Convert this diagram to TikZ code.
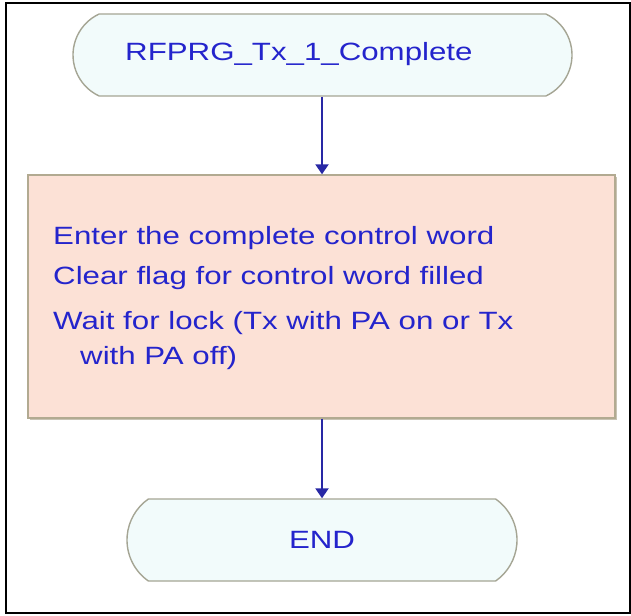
\documentclass[tikz,border=0pt]{standalone}
\usepackage{fontspec}
\setmainfont{Liberation Sans}[FakeStretch=1.25]
\usetikzlibrary{shapes.misc,arrows.meta}
\definecolor{txtblue}{RGB}{36,36,204}
\definecolor{arrowblue}{RGB}{40,40,165}
\definecolor{termfill}{RGB}{242,251,251}
\definecolor{termedge}{RGB}{165,165,148}
\definecolor{procfill}{RGB}{252,225,214}
\definecolor{procedge}{RGB}{178,170,145}
\definecolor{shadowgrey}{RGB}{200,195,180}
\begin{document}
\begin{tikzpicture}[x=1pt,y=-1pt,
  terminal/.style={draw=termedge, line width=1.4pt, fill=termfill,
    rounded rectangle, inner sep=0pt, minimum height=82pt},
  procbox/.style={draw=procedge, line width=1.4pt, fill=procfill,
    rectangle, inner sep=0pt, minimum width=587pt, minimum height=243pt},
  lbl/.style={text=txtblue, font=\fontsize{25}{29}\selectfont, inner sep=0pt},
  flow/.style={draw=arrowblue, line width=2.2pt,
    -{Triangle[width=13pt,length=10pt]}}]
  \useasboundingbox (0,0) rectangle (631,615);
  % outer frame
  \draw[line width=2pt] (6,3) rectangle (629.5,613);

  % start terminal
  \node[terminal, minimum width=499pt, rounded rectangle arc length=130]
    (start) at (322.5,55) {};
  \node[lbl, anchor=base west] (starttxt) at (125,61) {RFPRG\_Tx\_1\_Complete};

  % process box with a soft drop shadow
  \fill[shadowgrey] (30,177) rectangle (617,420);
  \node[procbox] (proc) at (321.5,296.5) {};
  \node[lbl, anchor=base west] (l1) at (53,244) {Enter the complete control word};
  \node[lbl, anchor=base west] (l2) at (53,284) {Clear flag for control word filled};
  \node[lbl, anchor=base west] (l3) at (53,329) {Wait for lock (Tx with PA on or Tx};
  \node[lbl, anchor=base west] (l4) at (80,364) {with PA off)};

  % end terminal
  \node[terminal, minimum width=390pt, rounded rectangle arc length=110]
    (stop) at (322,540) {};
  \node[lbl, anchor=base] (stoptxt) at (322,548) {END};

  % connectors
  \draw[flow] (start.south -| 322,0) -- (proc.north -| 322,0);
  \draw[flow] (proc.south -| 322,0) -- (stop.north -| 322,0);
\end{tikzpicture}
\end{document}
